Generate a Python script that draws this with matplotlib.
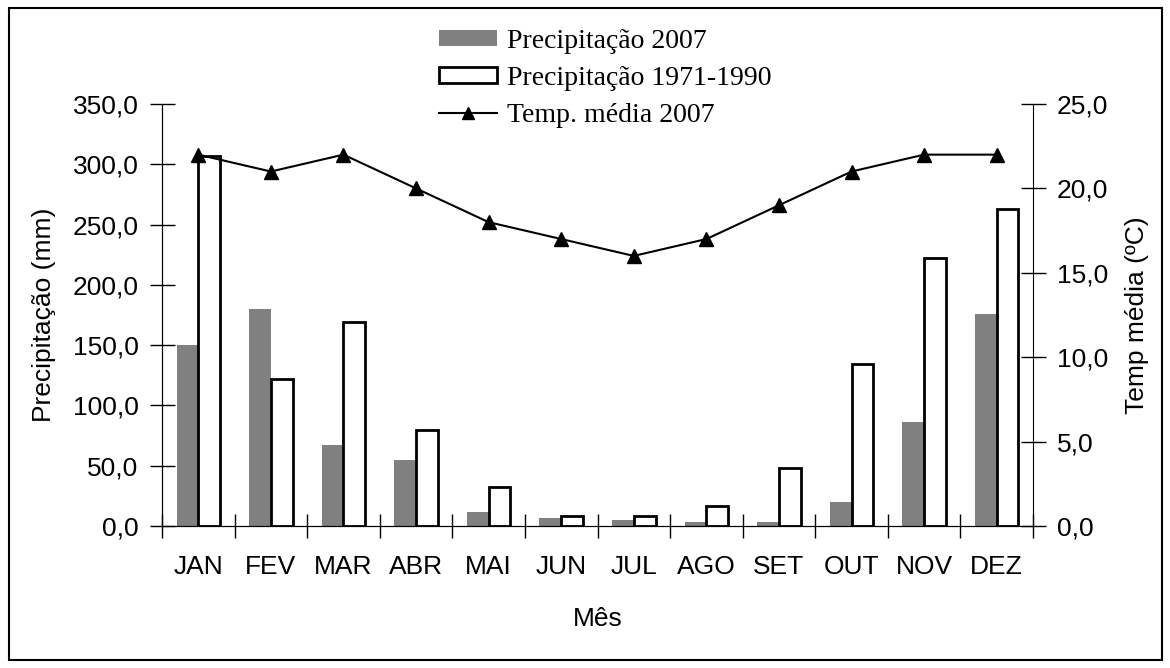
import numpy as np
import matplotlib.pyplot as plt
from matplotlib.ticker import FuncFormatter, FixedLocator

meses = ['JAN', 'FEV', 'MAR', 'ABR', 'MAI', 'JUN', 'JUL', 'AGO', 'SET', 'OUT', 'NOV', 'DEZ']
prec_2007 = [150, 180, 67, 55, 12, 7, 5, 3, 3, 20, 86, 176]
prec_normal = [307, 122, 169, 80, 32, 8, 8, 17, 48, 134, 222, 263]
temp_2007 = [22, 21, 22, 20, 18, 17, 16, 17, 19, 21, 22, 22]

plt.rcParams['font.family'] = ['Liberation Sans', 'DejaVu Sans']
fs = 19

fig = plt.figure(figsize=(11.7, 6.68), dpi=100)
ax = fig.add_axes([162 / 1170, 1 - 526 / 668, 871 / 1170, 422 / 668])

x = np.arange(len(meses))
w = 0.3
b1 = ax.bar(x - w / 2, prec_2007, w, color='#808080', label='Precipitação 2007')
b2 = ax.bar(x + w / 2, prec_normal, w, color='white', edgecolor='black', linewidth=2,
            label='Precipitação 1971-1990')
ax.set_xlim(-0.5, 11.5)
ax.set_ylim(0, 350)
ax.set_yticks(np.arange(0, 351, 50))

fmt = FuncFormatter(lambda v, p: f'{v:.1f}'.replace('.', ','))
ax.yaxis.set_major_formatter(fmt)

ax.set_xticks(x)
ax.set_xticklabels(meses)
ax.xaxis.set_minor_locator(FixedLocator(np.arange(-0.5, 12, 1)))
ax.tick_params(axis='x', which='major', length=0, pad=21, labelsize=fs)
ax.tick_params(axis='x', which='minor', direction='inout', length=17, width=1)
ax.tick_params(axis='y', direction='inout', length=18, width=1, labelsize=fs, pad=8)
ax.spines['top'].set_visible(False)
ax.spines['right'].set_visible(False)
ax.set_ylabel('Precipitação (mm)', fontsize=fs, labelpad=12)
ax.set_xlabel('Mês', fontsize=fs, labelpad=20)

ax2 = ax.twinx()
ln, = ax2.plot(x, temp_2007, color='black', marker='^', markersize=10, linewidth=1.5,
               label='Temp. média 2007')
ax2.set_ylim(0, 25)
ax2.set_yticks(np.arange(0, 26, 5))
ax2.yaxis.set_major_formatter(fmt)
ax2.tick_params(axis='y', direction='inout', length=18, width=1, labelsize=fs, pad=8)
ax2.spines['top'].set_visible(False)
ax2.set_ylabel('Temp média (ºC)', fontsize=fs, labelpad=12)

leg = fig.legend(handles=[b1, b2, ln], loc='upper left', bbox_to_anchor=(439 / 1170, 1 - 29 / 668),
                 frameon=False, prop={'family': 'Liberation Serif', 'size': 20},
                 handlelength=2.1, handleheight=0.5, handletextpad=0.35, labelspacing=0.43,
                 borderpad=0, borderaxespad=0, markerscale=0.8)

fig.patches.append(plt.Rectangle((9 / 1170, 8 / 668), 1153 / 1170, 652 / 668, transform=fig.transFigure,
                                 fill=False, edgecolor='black', linewidth=1.5))

fig.savefig('out.png', dpi=100)
